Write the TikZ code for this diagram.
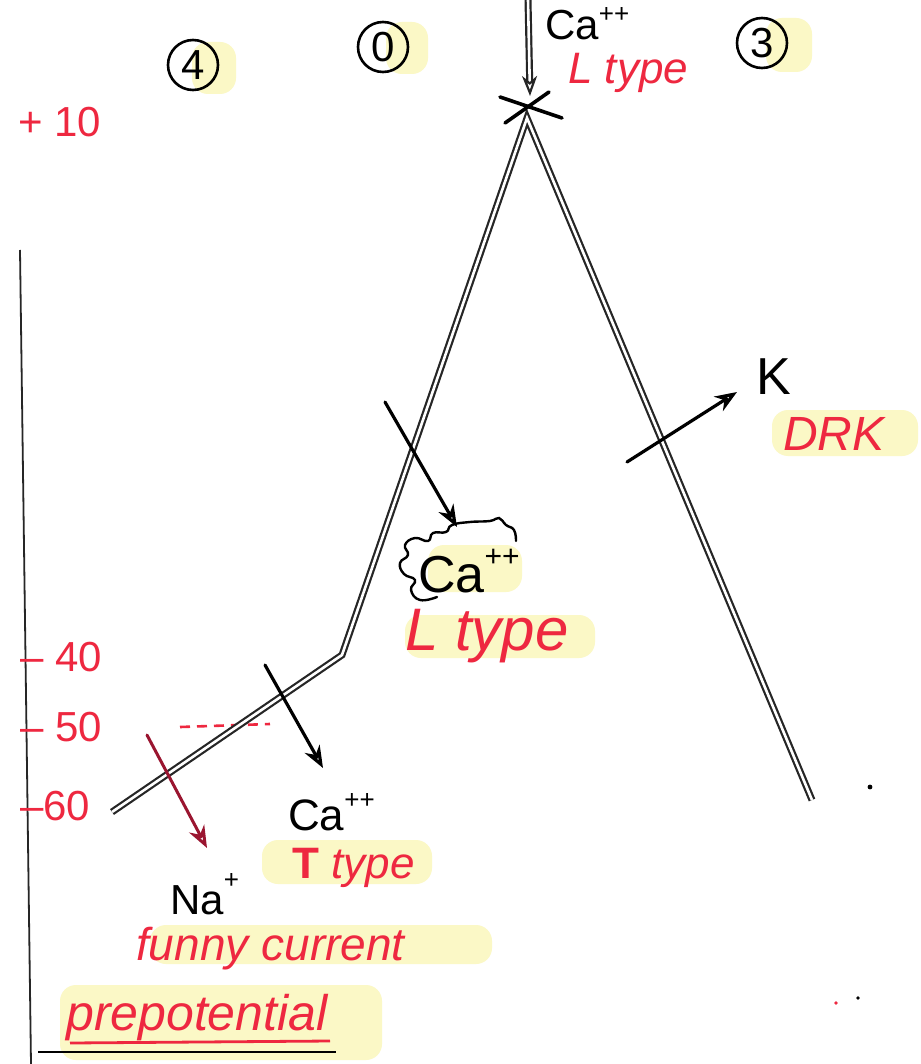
\documentclass[tikz,border=0pt]{standalone}
\usepackage{fontspec}
\setmainfont{Liberation Sans}
\usetikzlibrary{arrows.meta}
\definecolor{pen}{HTML}{EE2840}
\definecolor{maroon}{HTML}{9A1530}
\definecolor{hlc}{HTML}{FBF8C6}
\newcommand{\fs}[1]{\fontsize{#1}{#1}\selectfont}
\begin{document}
\begin{tikzpicture}[x=1pt,y=-1pt,
  ap/.style={draw=black!85, double=white, double distance=2.6pt, line width=2.2pt, line join=miter},
  ink/.style={black, line width=3.2pt, line cap=round},
  arr/.style={ink, -{Stealth[open,length=22pt,width=17pt,inset=7pt]}},
  hl/.style={fill=hlc, draw=none, rounded corners=16pt},
  circ/.style={circle, draw, line width=2.6pt, minimum size=50pt, inner sep=0pt, font=\fs{42}},
  redtxt/.style={text=pen, inner sep=0pt, font=\itshape\fs{#1}},
  blktxt/.style={text=black, inner sep=0pt, font=\fs{#1}},
  axlbl/.style={text=pen, inner sep=0pt, font=\fs{42}, anchor=west}
]
\useasboundingbox (0,0) rectangle (920,1064);
\fill[white] (0,0) rectangle (920,1064);

% highlights
\fill[hl] (192,42) rectangle (236,94);
\fill[hl] (386,22) rectangle (428,74);
\fill[hl] (766,18) rectangle (812,72);
\fill[hl] (772,410) rectangle (918,456);
\fill[hl] (428,545) rectangle (522,592);
\fill[hl] (405,615) rectangle (595,658);
\fill[hl] (262,840) rectangle (432,884);
\fill[hl] (150,925) rectangle (492,964);
\fill[hl] (60,985) rectangle (382,1060);

% left axis line
\draw[black!85, line width=1.8pt] (20,250) -- (31,1064);

% axis labels
\node[axlbl] (p10) at (18,122) {+ 10};
\node[axlbl] (m40) at (20,657) {– 40};
\node[axlbl] (m50) at (20,727) {– 50};
\node[axlbl] (m60) at (20,806) {–60};
\coordinate (thA) at (180,727);
\coordinate (thB) at (270,724);
\draw[pen, line width=2.6pt, dash pattern=on 10pt off 7pt] (thA) -- (thB);

% phase numbers
\node[circ] (c4) at (193,65) {4};
\node[circ] (c0) at (383,47) {0};
\node[circ] (c3) at (762,43) {3};

% action potential
\coordinate (p0) at (112,812);
\coordinate (p1) at (342,655);
\coordinate (p2) at (527,118);
\coordinate (p3) at (812,800);
\draw[ap] (p0) -- (p1) -- (p2) -- (p3);

% X at peak
\coordinate (x1) at (500,97);  \coordinate (x2) at (562,118);
\coordinate (x3) at (505,123); \coordinate (x4) at (549,92);
\draw[ink, line width=3.6pt] (x1) -- (x2);
\draw[ink, line width=3.6pt] (x3) -- (x4);

% top Ca++ L type
\coordinate (tA) at (528,0);
\coordinate (tB) at (530,96);
\draw[ap, -{Stealth[open,length=20pt,width=15pt,inset=6pt]}] (tA) -- (tB);
\node[blktxt=42, anchor=base west] (caTop) at (545,40) {Ca\raisebox{0.42em}{\fs{26}++}};
\node[redtxt=44, anchor=base west] (lTop) at (568,84) {L type};

% middle Ca++ L type
\coordinate (mA) at (385,402);
\coordinate (mB) at (457,527);
\draw[arr] (mA) -- (mB);
\draw[ink, line width=2.4pt] plot[smooth, tension=0.8] coordinates {(437,597) (420,600) (411,590) (415,580) (404,574) (400,563) (408,555) (405,545) (415,538) (428,541) (433,533) (446,532) (452,525) (470,522) (490,521) (499,518) (506,525) (514,530) (516,541)};
\node[blktxt=52, anchor=base west] (caMid) at (418,592) {Ca\raisebox{0.5em}{\fs{30}++}};
\node[redtxt=60, anchor=base west] (lMid) at (405,650) {L type};

% K DRK
\coordinate (kA) at (627,462);
\coordinate (kB) at (737,392);
\draw[arr] (kA) -- (kB);
\node[blktxt=52, anchor=base west] (kTxt) at (756,394) {K};
\node[redtxt=48, anchor=base west] (drk) at (783,450) {DRK};

% T type Ca++
\coordinate (cA) at (265,665);
\coordinate (cB) at (323,768);
\draw[arr] (cA) -- (cB);
\node[blktxt=44, anchor=base west] (caLow) at (288,830) {Ca\raisebox{0.5em}{\fs{26}++}};
\node[redtxt=44, anchor=base west, font=\fs{44}] (tType) at (292,878) {\textbf{T} \textit{type}};

% Na funny current
\coordinate (nA) at (147,735);
\coordinate (nB) at (207,848);
\draw[maroon, line width=3pt, line cap=round, -{Stealth[open,length=22pt,width=17pt,inset=7pt]}] (nA) -- (nB);
\node[blktxt=42, anchor=base west] (na) at (170,914) {Na\raisebox{0.6em}{\fs{26}+}};
\node[redtxt=46, anchor=base west] (funny) at (136,960) {funny current};
\node[redtxt=50, anchor=base west] (prep) at (66,1030) {prepotential};
\coordinate (u1) at (70,1043); \coordinate (u2) at (330,1041);
\draw[pen, line width=2.8pt] (u1) -- (u2);
\coordinate (u3) at (38,1052); \coordinate (u4) at (336,1052);
\draw[black, line width=2.8pt] (u3) -- (u4);

% stray dots
\fill (870,787) circle (2.4pt);
\fill[pen] (836,1003) circle (1.8pt);
\fill (858,998) circle (1.8pt);
\end{tikzpicture}
\end{document}
